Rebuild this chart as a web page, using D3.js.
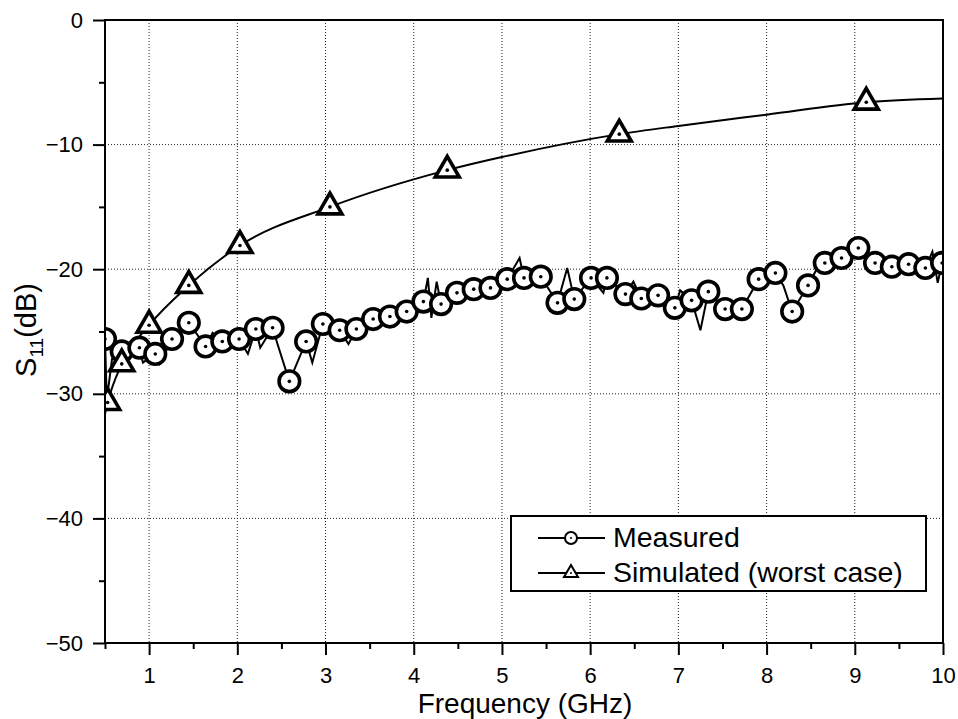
<!DOCTYPE html>
<html lang="en">
<head>
<meta charset="UTF-8">
<title>S11 measured vs simulated</title>
<script src="https://cdn.jsdelivr.net/npm/d3@7"></script>
<style>
	body { margin: 0; background: #fff; }
	text { font-family: "Liberation Sans", Arial, sans-serif; fill: #000; }
	.grid line { stroke: #222; stroke-width: 1; stroke-dasharray: 1,2; }
</style>
</head>
<body>
<script>
	// measured S11, every marker point
	var measMarkFreq = [0.50, 0.69, 0.89, 1.07, 1.26, 1.45, 1.64, 1.83, 2.02, 2.21,
		2.40, 2.59, 2.78, 2.97, 3.16, 3.35, 3.54, 3.73, 3.92, 4.11,
		4.31, 4.49, 4.68, 4.87, 5.06, 5.25, 5.44, 5.63, 5.82, 6.01,
		6.19, 6.40, 6.58, 6.77, 6.96, 7.15, 7.34, 7.53, 7.72, 7.91,
		8.10, 8.29, 8.47, 8.66, 8.85, 9.04, 9.23, 9.42, 9.61, 9.80, 9.99];
	var measMarkS11 = [-25.6, -26.6, -26.3, -26.8, -25.6, -24.3, -26.2, -25.8, -25.6, -24.8,
		-24.7, -29.0, -25.8, -24.4, -24.9, -24.8, -24.0, -23.8, -23.4, -22.6,
		-22.8, -21.9, -21.6, -21.5, -20.8, -20.7, -20.6, -22.7, -22.4, -20.7,
		-20.7, -22.0, -22.35, -22.1, -23.1, -22.5, -21.8, -23.2, -23.2, -20.8,
		-20.3, -23.4, -21.3, -19.5, -19.1, -18.3, -19.5, -19.8, -19.6, -19.9, -19.5];
	// spikes of the measured trace between markers
	var measSpikeFreq = [0.52, 0.58, 0.93, 1.12, 1.35, 1.72, 2.12, 2.26, 2.46, 2.85,
		3.26, 3.60, 4.16, 4.20, 4.26, 5.20, 5.74, 6.15, 6.49, 7.02,
		7.25, 7.62, 8.19, 8.56, 9.30, 9.88, 9.94];
	var measSpikeS11 = [-30.5, -27.2, -27.5, -27.6, -25.0, -25.1, -26.8, -26.3, -26.1, -27.5,
		-26.0, -23.4, -20.7, -23.9, -21.0, -19.1, -19.9, -21.9, -21.0, -21.7,
		-24.9, -22.6, -21.3, -20.1, -18.9, -18.6, -21.1];

	// simulated (worst case)
	var simFreq = [0.50, 0.53, 0.69, 1.00, 1.45, 2.03, 3.05, 4.38, 5.00, 6.33, 7.00, 8.00, 9.13, 10.0];
	var simS11 = [-31.6, -30.7, -27.6, -24.5, -21.3, -18.1, -15.0, -12.05, -11.0, -9.16, -8.5, -7.6, -6.6, -6.3];
	var simMarkFreq = [0.53, 0.69, 1.00, 1.45, 2.03, 3.05, 4.38, 6.33, 9.13];

	var xTicks = [1, 2, 3, 4, 5, 6, 7, 8, 9, 10];
	var xMinor = [0.5, 1.5, 2.5, 3.5, 4.5, 5.5, 6.5, 7.5, 8.5, 9.5];
	var yTicks = [0, -10, -20, -30, -40, -50];
	var yMinor = [-5, -15, -25, -35, -45];
	var legendLabels = ['Measured', 'Simulated (worst case)'];

	var W = 958, H = 719;
	var margin = {top: 20, left: 105, right: 15, bottom: 76};
	var width = W - margin.left - margin.right;
	var height = H - margin.top - margin.bottom;

	var svg = d3.select('body').append('svg')
		.attr('width', W)
		.attr('height', H);

	var g = svg.append('g')
		.attr('transform', 'translate(' + margin.left + ',' + margin.top + ')');

	var x = d3.scaleLinear().domain([0.5, 10]).range([0, width]);
	var y = d3.scaleLinear().domain([-50, 0]).range([height, 0]);

	// grid
	var grid = g.append('g').attr('class', 'grid');
	grid.selectAll('.gx')
		.data(xTicks.filter(function (d) { return d < 10; }))
		.enter().append('line')
		.attr('x1', function (d) { return x(d); })
		.attr('x2', function (d) { return x(d); })
		.attr('y1', 0).attr('y2', height);
	grid.selectAll('.gy')
		.data(yTicks.filter(function (d) { return d > -50 && d < 0; }))
		.enter().append('line')
		.attr('x1', 0).attr('x2', width)
		.attr('y1', function (d) { return y(d); })
		.attr('y2', function (d) { return y(d); });

	g.append('clipPath').attr('id', 'plot-clip')
		.append('rect').attr('width', width).attr('height', height);

	var plot = g.append('g').attr('clip-path', 'url(#plot-clip)');

	// measured line: markers and spikes merged by frequency
	var meas = measMarkFreq.map(function (f, i) { return [f, measMarkS11[i]]; })
		.concat(measSpikeFreq.map(function (f, i) { return [f, measSpikeS11[i]]; }))
		.sort(function (a, b) { return a[0] - b[0]; });

	var line = d3.line()
		.x(function (d) { return x(d[0]); })
		.y(function (d) { return y(d[1]); });

	plot.append('path')
		.datum(meas)
		.attr('d', line)
		.attr('fill', 'none')
		.attr('stroke', '#000')
		.attr('stroke-width', 2);

	var sim = simFreq.map(function (f, i) { return [f, simS11[i]]; });
	plot.append('path')
		.datum(sim)
		.attr('d', line.curve(d3.curveMonotoneX))
		.attr('fill', 'none')
		.attr('stroke', '#000')
		.attr('stroke-width', 2);

	function triPath(s) {
		var h = s * Math.sqrt(3) / 2;
		return 'M0,' + (-h * 2 / 3) + 'L' + (s / 2) + ',' + (h / 3) + 'L' + (-s / 2) + ',' + (h / 3) + 'Z';
	}

	// circle markers
	var cm = plot.selectAll('.cm')
		.data(measMarkFreq)
		.enter().append('g')
		.attr('transform', function (d, i) { return 'translate(' + x(d) + ',' + y(measMarkS11[i]) + ')'; });
	cm.append('circle').attr('r', 10.3).attr('fill', '#fff').attr('stroke', '#000').attr('stroke-width', 3.6);
	cm.append('circle').attr('r', 1.8).attr('fill', '#000');

	// triangle markers
	var tm = plot.selectAll('.tm')
		.data(simMarkFreq)
		.enter().append('g')
		.attr('transform', function (d) {
			return 'translate(' + x(d) + ',' + y(simS11[simFreq.indexOf(d)]) + ')';
		});
	tm.append('path').attr('d', triPath(24)).attr('fill', '#fff')
		.attr('stroke', '#000').attr('stroke-width', 3.6).attr('stroke-linejoin', 'miter');
	tm.append('circle').attr('r', 1.8).attr('fill', '#000');

	// frame
	g.append('rect')
		.attr('width', width).attr('height', height)
		.attr('fill', 'none').attr('stroke', '#000').attr('stroke-width', 2);

	// axes
	g.append('g')
		.attr('transform', 'translate(0,' + height + ')')
		.call(d3.axisBottom(x).tickValues(xTicks).tickSize(12).tickPadding(12).tickFormat(d3.format('d')));
	g.append('g')
		.attr('transform', 'translate(0,' + height + ')')
		.call(d3.axisBottom(x).tickValues(xMinor).tickSize(6).tickFormat(''));
	g.append('g')
		.call(d3.axisLeft(y).tickValues(yTicks).tickSize(12).tickPadding(10).tickFormat(d3.format('d')));
	g.append('g')
		.call(d3.axisLeft(y).tickValues(yMinor).tickSize(6).tickFormat(''));

	g.selectAll('.domain').remove();
	g.selectAll('.tick line').attr('stroke', '#000').attr('stroke-width', 2);
	g.selectAll('.tick text')
		.style('font-family', '"Liberation Sans", Arial, sans-serif')
		.style('font-size', '22px');

	// axis titles
	svg.append('text')
		.attr('x', 525)
		.attr('y', 713)
		.attr('text-anchor', 'middle')
		.style('font-size', '28px')
		.text('Frequency (GHz)');

	var yl = svg.append('text')
		.attr('transform', 'translate(36,330) rotate(-90)')
		.attr('text-anchor', 'middle')
		.style('font-size', '29px');
	yl.append('tspan').text('S');
	yl.append('tspan').attr('dy', 7).style('font-size', '19px').text('11');
	yl.append('tspan').attr('dy', -7).text('(dB)');

	// legend
	var lg = svg.append('g').attr('transform', 'translate(511,516)');
	lg.append('rect')
		.attr('width', 415).attr('height', 75)
		.attr('fill', '#fff').attr('stroke', '#000').attr('stroke-width', 2);

	var items = lg.selectAll('.li')
		.data(legendLabels)
		.enter().append('g')
		.attr('transform', function (d, i) { return 'translate(0,' + (22 + i * 35) + ')'; });
	items.append('line')
		.attr('x1', 27).attr('x2', 94)
		.attr('stroke', '#000').attr('stroke-width', 2);
	items.append('text')
		.attr('x', 102).attr('y', 9)
		.style('font-size', '28.5px')
		.text(function (d) { return d; });

	var l0 = items.filter(function (d, i) { return i === 0; });
	l0.append('circle').attr('cx', 60).attr('r', 6).attr('fill', '#fff').attr('stroke', '#000').attr('stroke-width', 2);
	l0.append('circle').attr('cx', 60).attr('r', 1).attr('fill', '#000');
	var l1 = items.filter(function (d, i) { return i === 1; });
	l1.append('path').attr('transform', 'translate(60,0)').attr('d', triPath(14))
		.attr('fill', '#fff').attr('stroke', '#000').attr('stroke-width', 2);
	l1.append('circle').attr('cx', 60).attr('r', 1).attr('fill', '#000');
</script>
</body>
</html>
